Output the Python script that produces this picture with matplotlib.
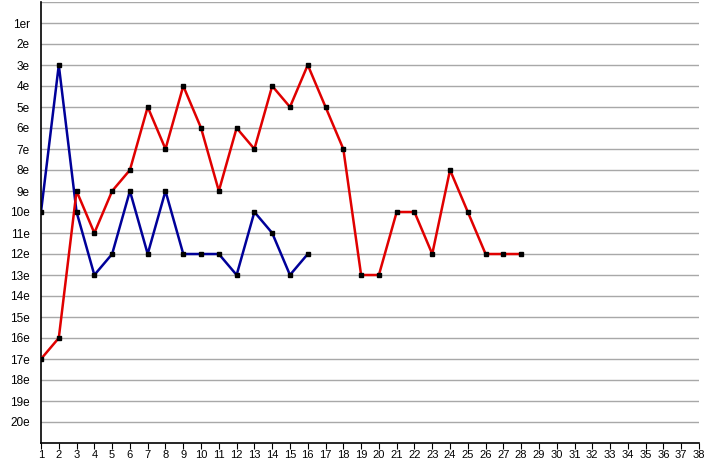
import matplotlib
matplotlib.use('Agg')
import matplotlib.pyplot as plt

plt.rcParams['font.family'] = ['Liberation Sans', 'DejaVu Sans']

# classement journée par journée
red_days = list(range(1, 29))
red_rank = [17, 16, 9, 11, 9, 8, 5, 7, 4, 6, 9, 6, 7, 4, 5, 3, 5, 7,
            13, 13, 10, 10, 12, 8, 10, 12, 12, 12]
blue_days = list(range(1, 17))
blue_rank = [10, 3, 10, 13, 12, 9, 12, 9, 12, 12, 12, 13, 10, 11, 13, 12]

ranks = list(range(1, 21))
rank_labels = ['1er'] + ['%de' % r for r in ranks[1:]]
days = list(range(1, 39))

fig = plt.figure(figsize=(7.12, 4.62), dpi=100)
ax = fig.add_axes([41/712, 1 - 443/462, (699-41)/712, (443-2)/462])

for r in range(0, 21):
    ax.axhline(r, color='#a8a8a8', lw=1, zorder=0)

ax.plot(blue_days, blue_rank, '-', color='#000099', lw=1.8, zorder=2)
ax.plot(blue_days, blue_rank, 's', color='black', ms=3.2, zorder=4)
ax.plot(red_days, red_rank, '-', color='#e00000', lw=1.8, zorder=3)
ax.plot(red_days, red_rank, 's', color='black', ms=3.2, zorder=4)

ax.set_xlim(1, 38)
ax.set_ylim(21, 0)
ax.set_xticks(days)
ax.set_xticklabels([str(d) for d in days], fontsize=8)
ax.set_yticks(ranks)
ax.set_yticklabels(rank_labels, fontsize=8.5)
ax.tick_params(axis='y', length=0, pad=8)
ax.tick_params(axis='x', length=4, direction='out', pad=1)
ax.spines['top'].set_visible(False)
ax.spines['right'].set_visible(False)
ax.spines['left'].set_linewidth(1.2)
ax.spines['bottom'].set_linewidth(1.2)

fig.savefig('out.png', dpi=100)
